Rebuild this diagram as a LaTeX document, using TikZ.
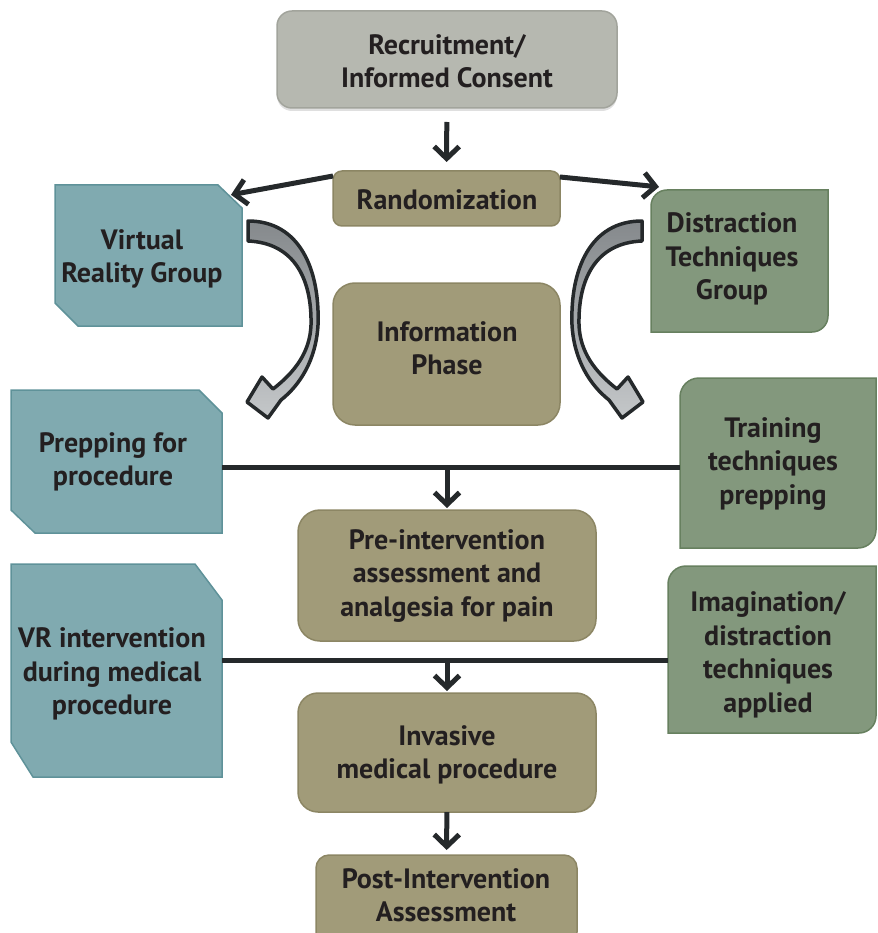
\documentclass[tikz,border=0pt]{standalone}
\usepackage{fontspec}
\setmainfont{PT Sans}
\usetikzlibrary{arrows.meta,backgrounds,calc,shadows}
\definecolor{ink}{HTML}{231F20}
\definecolor{arrowc}{HTML}{25292B}
\definecolor{grayf}{HTML}{B6B8B0}
\definecolor{grayd}{HTML}{A2A49C}
\definecolor{olivef}{HTML}{A19B79}
\definecolor{olived}{HTML}{8C8664}
\definecolor{tealf}{HTML}{80AAB0}
\definecolor{teald}{HTML}{5F9299}
\definecolor{greenf}{HTML}{83987D}
\definecolor{greend}{HTML}{67805F}
\definecolor{bentdark}{HTML}{85898C}
\definecolor{bentlight}{HTML}{C4C7C9}
\tikzset{
  txt/.style={font=\bfseries\fontsize{28}{33.5}\selectfont, text=ink, align=center, inner sep=0pt},
  frame/.style={inner sep=0pt, outer sep=0pt},
  greybox/.style={frame, fill=grayf, draw=grayd, line width=1.5pt, rounded corners=15pt,
    drop shadow={shadow xshift=0pt, shadow yshift=-3pt, opacity=0.25}},
  olivebox/.style={frame, fill=olivef, draw=olived, line width=1.5pt},
  tealshape/.style={fill=tealf, draw=teald, line width=1.5pt, line join=miter},
  greenshape/.style={fill=greenf, draw=greend, line width=1.5pt},
  conn/.style={draw=arrowc, line width=5pt},
  arr/.style={conn, -{Straight Barb[length=12pt,width=25pt]}},
}
% chamfered teal shape: name, NE dx, NE dy, SW dx, SW dy
\newcommand{\chamfshape}[5]{%
  \path[tealshape] (#1.north west) -- ([xshift=-#2pt]#1.north east) -- ([yshift=-#3pt]#1.north east)
    -- (#1.south east) -- ([xshift=#4pt]#1.south west) -- ([yshift=#5pt]#1.south west) -- cycle;}
% green shape, rounded NW and SE: name, r1, r2
\newcommand{\diagshape}[3]{%
  \path[greenshape] (#1.south west) -- ([yshift=-#2pt]#1.north west)
    arc[start angle=180, end angle=90, radius=#2pt] -- (#1.north east)
    -- ([yshift=#3pt]#1.south east) arc[start angle=0, end angle=-90, radius=#3pt] -- cycle;}
\newcommand{\bentarrow}{%
  \path[draw=arrowc, line width=3.5pt, line join=round, top color=bentdark, bottom color=bentlight]
    (248,221) .. controls (300,221) and (320,270) .. (318,325)
    .. controls (316,360) and (300,385) .. (281,400)
    -- (268,418) -- (247,402) -- (262,377) -- (273,389)
    .. controls (295,372) and (310,352) .. (311,325)
    .. controls (312,280) and (295,243) .. (248,241) -- cycle;}
\begin{document}
\begin{tikzpicture}[x=1pt,y=-1pt]
\path[use as bounding box] (0,0) rectangle (877,933);
\clip (0,0) rectangle (877,933);

% central column
\node[greybox, minimum width=340pt, minimum height=97pt] (rec) at (447,59.5) {};
\node[txt] (rec-t) at (447,61) {Recruitment/\\Informed Consent};

\node[olivebox, rounded corners=9pt, minimum width=227pt, minimum height=55pt] (rand) at (446.5,198.5) {};
\node[txt] (rand-t) at (447,200) {Randomization};

\node[olivebox, rounded corners=22pt, minimum width=227pt, minimum height=142pt] (info) at (446.5,354) {};
\node[txt] (info-t) at (447,348) {Information\\Phase};

\node[olivebox, rounded corners=22pt, minimum width=298pt, minimum height=131pt] (preint) at (447,575.5) {};
\node[txt] (preint-t) at (447,576) {Pre-intervention\\assessment and\\analgesia for pain};

\node[olivebox, rounded corners=20pt, minimum width=298pt, minimum height=119pt] (inv) at (447,752.5) {};
\node[txt] (inv-t) at (447,755) {Invasive\\medical procedure};

\node[olivebox, rounded corners=13pt, minimum width=261pt, minimum height=90pt] (post) at (446.5,900) {};
\node[txt] (post-t) at (446,895) {Post-Intervention\\Assessment};

% teal (virtual reality) column
\node[frame, minimum width=187pt, minimum height=141pt] (vr) at (148.5,255.5) {};
\node[frame, minimum width=211pt, minimum height=143pt] (prep) at (116.5,461.5) {};
\node[frame, minimum width=211pt, minimum height=213pt] (vri) at (116.5,670.5) {};

% green (distraction) column
\node[frame, minimum width=177pt, minimum height=142pt] (dtg) at (739.5,261) {};
\node[frame, minimum width=196pt, minimum height=170pt] (train) at (778,463) {};
\node[frame, minimum width=208pt, minimum height=167pt] (imag) at (772,649.5) {};

\begin{pgfonlayer}{background}
  \chamfshape{vr}{24}{23}{23}{23}
  \chamfshape{prep}{23}{23}{24}{23}
  \chamfshape{vri}{27}{36}{22}{35}
  \diagshape{dtg}{16}{16}
  \diagshape{train}{19}{18}
  \diagshape{imag}{18}{17}
\end{pgfonlayer}

\node[txt] (vr-t) at (142,259) {Virtual\\Reality Group};
\node[txt] (prep-t) at (113,462) {Prepping for\\procedure};
\node[txt] (vri-t) at (112,674) {VR intervention\\during medical\\procedure};
\node[txt] (dtg-t) at (732,259) {Distraction\\Techniques\\Group};
\node[txt] (train-t) at (773,464) {Training\\techniques\\prepping};
\node[txt] (imag-t) at (768,655) {Imagination/\\distraction\\techniques\\applied};

% bent arrows
\bentarrow
\begin{scope}[xshift=890pt, xscale=-1]
  \bentarrow
\end{scope}

% connectors
\draw[arr, shorten <=14pt, shorten >=9pt] (rec) -- (rand);
\coordinate (vrtip) at ($(vr.north east)+(-12pt,-10pt)$);
\coordinate (dtgtip) at ($(dtg.north west)+(9pt,3pt)$);
\draw[arr, shorten >=1pt] ($(rand.north west)+(0pt,-5pt)$) -- (vrtip);
\draw[arr, shorten >=1pt] ($(rand.north east)+(0pt,-6pt)$) -- (dtgtip);

\coordinate (j1) at (447,467);
\draw[conn] (prep.east |- j1) -- (train.west |- j1);
\draw[arr, shorten >=2pt] (j1) -- (preint.north);

\coordinate (j2) at (447,660);
\draw[conn] (vri.east |- j2) -- (imag.west |- j2);
\draw[arr, shorten >=2pt] (j2) -- (inv.north);

\draw[arr, shorten >=5pt] (inv) -- (post);
\end{tikzpicture}
\end{document}
